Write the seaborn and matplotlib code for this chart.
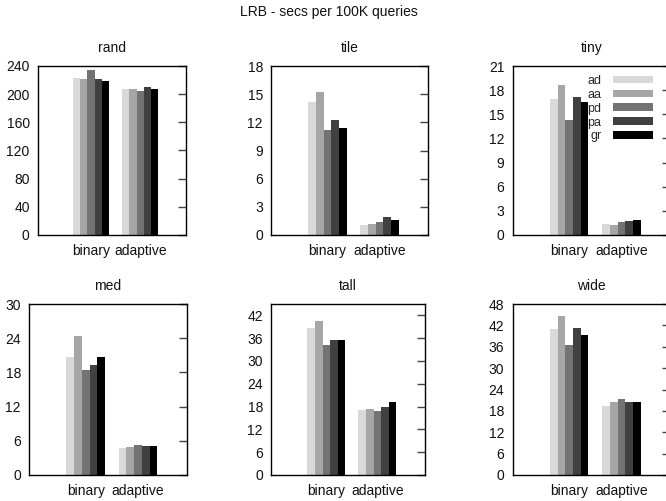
import matplotlib
matplotlib.use("Agg")
import matplotlib.pyplot as plt
from matplotlib.patches import Patch
import pandas as pd
import seaborn as sns

# Query timings (seconds per 100K queries) by dataset, search method and series
methods = ["binary", "adaptive"]
series = ["ad", "aa", "pd", "pa", "gr"]
colors = ["#d9d9d9", "#a6a6a6", "#737373", "#404040", "#000000"]

rand_binary = [222.5, 221.0, 235.0, 221.0, 218.0]
rand_adaptive = [208.0, 208.0, 204.5, 209.5, 207.0]
tile_binary = [14.15, 15.2, 11.15, 12.2, 11.4]
tile_adaptive = [1.05, 1.2, 1.4, 1.9, 1.6]
tiny_binary = [16.9, 18.65, 14.3, 17.1, 16.5]
tiny_adaptive = [1.35, 1.25, 1.6, 1.75, 1.85]
med_binary = [20.75, 24.45, 18.5, 19.35, 20.75]
med_adaptive = [4.75, 4.9, 5.25, 5.1, 5.1]
tall_binary = [38.8, 40.5, 34.3, 35.5, 35.5]
tall_adaptive = [17.2, 17.5, 16.9, 18.0, 19.3]
wide_binary = [40.9, 44.7, 36.6, 41.4, 39.2]
wide_adaptive = [19.4, 20.4, 21.2, 20.4, 20.4]

panels = [
    ("rand", rand_binary, rand_adaptive, 240, 40),
    ("tile", tile_binary, tile_adaptive, 18, 3),
    ("tiny", tiny_binary, tiny_adaptive, 21, 3),
    ("med", med_binary, med_adaptive, 30, 6),
    ("tall", tall_binary, tall_adaptive, 45, 6),
    ("wide", wide_binary, wide_adaptive, 48, 6),
]

# axes boxes in pixels: (left, right, top, bottom)
W, H = 666, 501
boxes = [
    (38.0, 186.0, 66.0, 235.0),
    (271.3, 428.0, 66.0, 235.0),
    (512.7, 670.0, 66.0, 235.0),
    (29.3, 186.7, 304.0, 475.0),
    (271.3, 424.7, 304.0, 475.0),
    (512.7, 670.0, 304.0, 475.0),
]

sns.set_style("white")
plt.rcParams["font.family"] = ["Liberation Sans", "DejaVu Sans"]

fig = plt.figure(figsize=(W / 100, H / 100), dpi=100)
fig.text(328.5 / W, 1 - 12 / H, "LRB - secs per 100K queries",
         ha="center", va="center", fontsize=10, color="#111111")

for (name, vb, va, ymax, step), (x0, x1, y0, y1) in zip(panels, boxes):
    ax = fig.add_axes([x0 / W, (H - y1) / H, (x1 - x0) / W, (y1 - y0) / H])
    df = pd.DataFrame({
        "method": [methods[0]] * len(series) + [methods[1]] * len(series),
        "series": series * 2,
        "value": list(vb) + list(va),
    })
    sns.barplot(data=df, x="method", y="value", hue="series",
                order=methods, hue_order=series, palette=colors,
                width=0.74, linewidth=0, saturation=1, errorbar=None,
                legend=False, ax=ax)
    ax.set_xlim(-1.08, 1.93)
    ax.set_ylim(0, ymax)
    top_tick = (ymax // step) * step
    ax.set_yticks(range(0, int(top_tick) + 1, step))
    ax.set_xlabel("")
    ax.set_ylabel("")
    ax.set_title(name, fontsize=10, pad=10, color="#111111")
    for sp in ax.spines.values():
        sp.set_visible(True)
        sp.set_color("black")
        sp.set_linewidth(1.0)
    ax.tick_params(axis="y", which="both", direction="in", length=6,
                   width=1, color="#444444", left=False, right=True,
                   labelleft=True, labelright=False, pad=6.0,
                   labelsize=10, labelcolor="#111111")
    ax.tick_params(axis="x", which="both", length=0, pad=6.5,
                   labelsize=10, labelcolor="#111111")
    ax.set_facecolor("white")

    if name == "tiny":
        handles = [Patch(facecolor=c, edgecolor="none", label=s)
                   for c, s in zip(colors, series)]
        ax.legend(handles=handles, loc="upper right",
                  bbox_to_anchor=(653.3 / W, (H - 75) / H),
                  bbox_transform=fig.transFigure,
                  frameon=False, markerfirst=False, fontsize=9,
                  handlelength=3.2, handleheight=0.58, handletextpad=0.95,
                  labelspacing=0.15, borderpad=0, borderaxespad=0)

fig.savefig("out.png", dpi=100, facecolor="white")
